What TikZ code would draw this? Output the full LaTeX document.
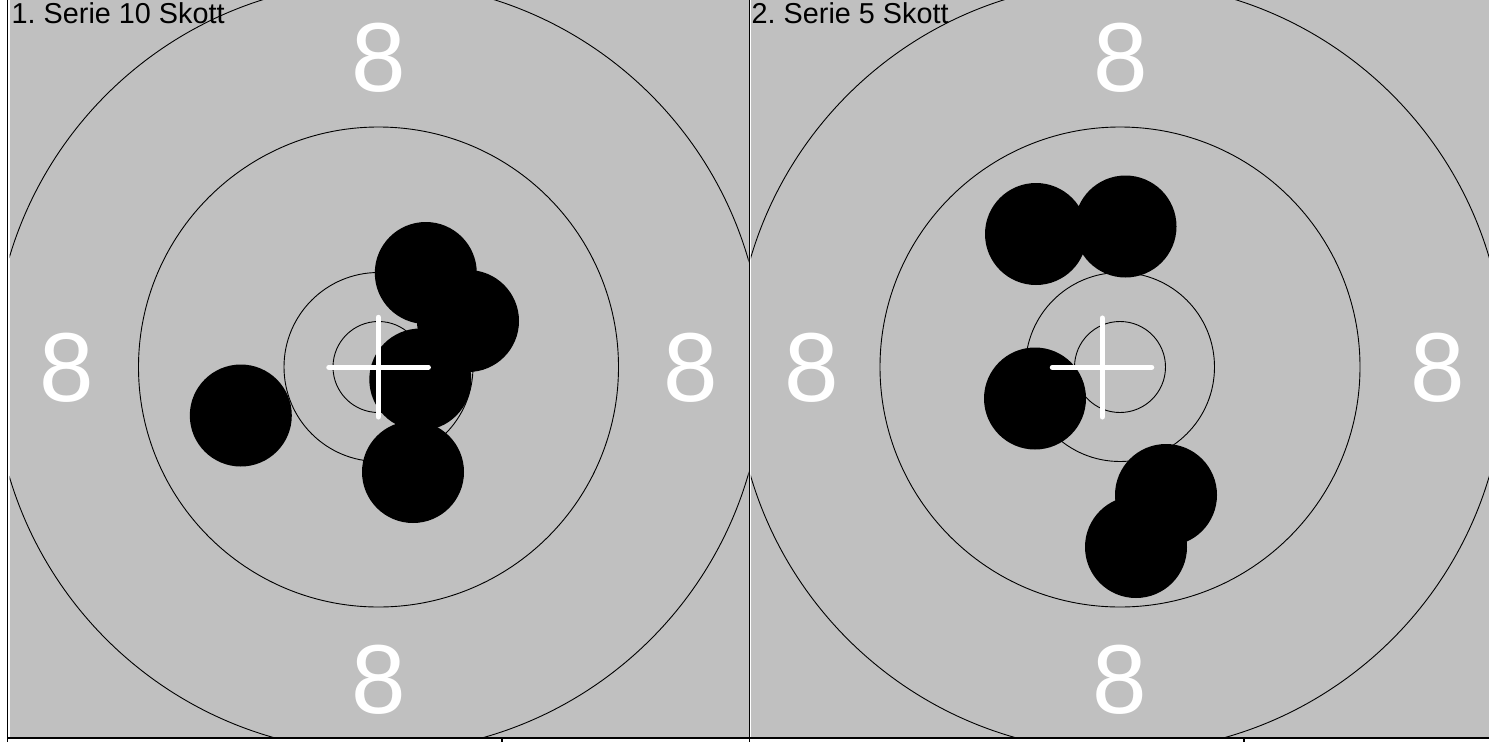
\documentclass[tikz,border=0pt]{standalone}
\usepackage{fontspec}
\setmainfont{Liberation Sans}
\definecolor{panelgray}{HTML}{C0C0C0}
\frenchspacing
\begin{document}
\begin{tikzpicture}[x=1pt,y=-1pt,
  ring/.style={draw=black,line width=0.9pt},
  hole/.style={circle,fill=black,inner sep=0pt,minimum size=102pt},
  cross/.style={draw=white,line width=5.5pt,line cap=round},
  zone/.style={text=white,font=\fontsize{98}{98}\selectfont,inner sep=0pt},
  title/.style={anchor=base west,font=\fontsize{28.8}{30}\selectfont\frenchspacing,inner sep=0pt},
  gridline/.style={draw=black,line width=1.1pt}]
\useasboundingbox (0,0) rectangle (1489,742);
\fill[white] (0,0) rectangle (1489,742);
% panels
\fill[panelgray] (9.5,0) rectangle (748.5,736.5);
\fill[panelgray] (750.8,0) rectangle (1489,736.5);
% frame lines
\draw[gridline] (7.6,0) -- (7.6,742);
\draw[gridline] (749.3,0) -- (749.3,742);
\draw[gridline] (7,738) -- (1489,738);
\draw[gridline] (502,738) -- (502,742);
\draw[gridline] (1244,738) -- (1244,742);
% rings left
\begin{scope}
\clip (9.5,0) rectangle (748.5,736.5);
\foreach \r in {45.5,94.5,240,385} \draw[ring] (378.5,367) circle[radius=\r pt];
\end{scope}
% rings right
\begin{scope}
\clip (750.8,0) rectangle (1489,736.5);
\foreach \r in {45.5,94.5,240,385} \draw[ring] (1120,367) circle[radius=\r pt];
\end{scope}
% zone labels left
\node[zone] (l8t) at (378.5,58) {8};
\node[zone] (l8b) at (378.5,680) {8};
\node[zone] (l8l) at (66.7,368) {8};
\node[zone] (l8r) at (690.5,368) {8};
% zone labels right
\node[zone] (r8t) at (1121,58) {8};
\node[zone] (r8b) at (1120,680) {8};
\node[zone] (r8l) at (812,368) {8};
\node[zone] (r8r) at (1438,368) {8};
% holes left
\node[hole] (a1) at (425.8,273) {};
\node[hole] (a2) at (468,321) {};
\node[hole] (a3) at (420.3,379.5) {};
\node[hole] (a4) at (413,472) {};
\node[hole] (a5) at (240.8,415.5) {};
% holes right
\node[hole] (b1) at (1036,234) {};
\node[hole] (b2) at (1125.5,226.5) {};
\node[hole] (b3) at (1035,398.5) {};
\node[hole] (b4) at (1166,495) {};
\node[hole] (b5) at (1136,547) {};
% crosshairs
\draw[cross] (329,367.3) -- (428.2,367.3);
\draw[cross] (378.3,317.5) -- (378.3,416.8);
\draw[cross] (1052.5,367.3) -- (1151.5,367.3);
\draw[cross] (1102.3,318.2) -- (1102.3,416.8);
% titles
\node[title] (t1) at (11.5,23.5) {1. Serie 10 Skott};
\node[title] (t2) at (751.5,23.5) {2. Serie 5 Skott};
\end{tikzpicture}
\end{document}
